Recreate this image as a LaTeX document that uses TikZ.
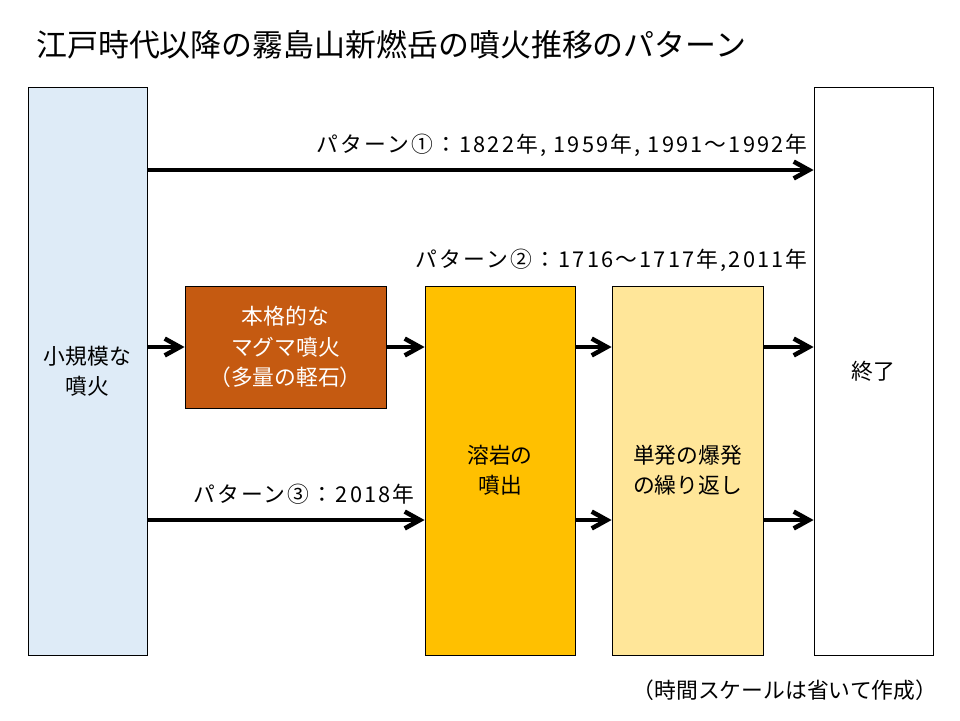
\documentclass[tikz,border=0pt]{standalone}
\usepackage{fontspec}
\setmainfont{Noto Sans CJK JP}
\newfontfamily\spacedfont[LetterSpace=10]{Noto Sans CJK JP}
\usetikzlibrary{arrows.meta}
\definecolor{startblue}{HTML}{DEEBF7}
\definecolor{magmaorange}{HTML}{C55A11}
\definecolor{lavayellow}{HTML}{FFC000}
\definecolor{paleyellow}{HTML}{FFE699}
\tikzstyle{rect} = [rectangle, draw=black, line width=0.6pt, text centered, align=center, font=\fontsize{15.5}{21.5}\selectfont]
\tikzstyle{blank} = [rectangle, inner sep=0pt, font=\fontsize{15.5}{21.5}\selectfont]
\tikzstyle{pattern} = [blank, anchor=east, font=\spacedfont\fontsize{15.5}{21.5}\selectfont]
\tikzstyle{arrow} = [-{Straight Barb[length=3.8mm,width=4.2mm]}, line width=3.2pt]

\begin{document}
\begin{tikzpicture}
        \useasboundingbox (0,0) rectangle (24,-18);
        \node[blank, anchor=west, font=\fontsize{22}{26}\selectfont] (title) at (0.9,-1.125) {江戸時代以降の霧島山新燃岳の噴火推移のパターン};

        \node[rect, fill=startblue, minimum width=2.975cm, minimum height=14.2cm] (start) at (2.1875,-9.275) {小規模な\\噴火};
        \node[rect, fill=white, minimum width=2.975cm, minimum height=14.2cm] (end) at (21.8375,-9.275) {終了};
        \node[rect, fill=magmaorange, text=white, minimum width=5.025cm, minimum height=3.05cm] (magma) at (7.1375,-8.675) {本格的な\\マグマ噴火\\（多量の軽石）};
        \node[rect, fill=lavayellow, minimum width=3.75cm, minimum height=9.225cm] (lava) at (12.5,-11.7625) {溶岩の\\噴出};
        \node[rect, fill=paleyellow, minimum width=3.775cm, minimum height=9.225cm] (burst) at (17.1875,-11.7625) {単発の爆発\\の繰り返し};

        \coordinate (row1) at (0,-4.25);
        \coordinate (row3) at (0,-13);

        \draw[arrow] (start.east |- row1) -- (end.west |- row1);
        \draw[arrow] (start.east |- magma.west) -- (magma.west);
        \draw[arrow] (magma.east) -- (lava.west |- magma.east);
        \draw[arrow] (lava.east |- magma.east) -- (burst.west |- magma.east);
        \draw[arrow] (burst.east |- magma.east) -- (end.west |- magma.east);
        \draw[arrow] (start.east |- row3) -- (lava.west |- row3);
        \draw[arrow] (lava.east |- row3) -- (burst.west |- row3);
        \draw[arrow] (burst.east |- row3) -- (end.west |- row3);

        \node[pattern] (p1) at (20.2,-3.625) {パターン①：1822年, 1959年, 1991～1992年};
        \node[pattern] (p2) at (20.2,-6.5) {パターン②：1716～1717年,2011年};
        \node[pattern] (p3) at (10.375,-12.35) {パターン③：2018年};
        \node[blank] (note) at (19.625,-17.25) {（時間スケールは省いて作成）};
\end{tikzpicture}
\end{document}
